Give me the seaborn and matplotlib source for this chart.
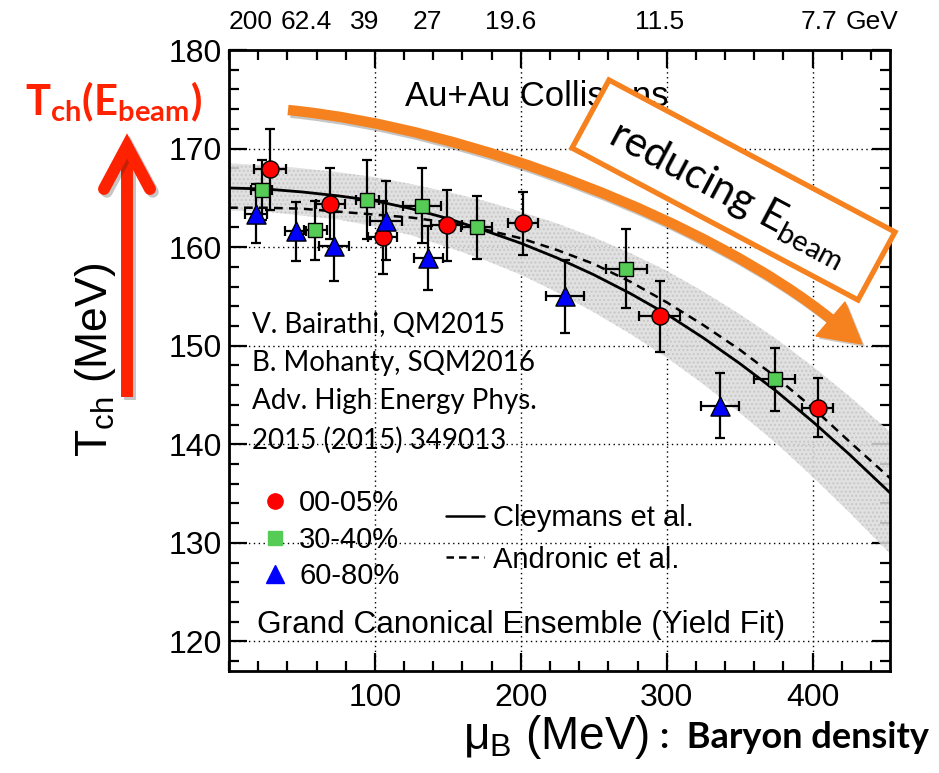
import numpy as np
import pandas as pd
import matplotlib
matplotlib.use("Agg")
import matplotlib.pyplot as plt
import seaborn as sns
from matplotlib.lines import Line2D
from matplotlib.patches import Polygon, PathPatch
from matplotlib.path import Path
from matplotlib.ticker import MultipleLocator
import matplotlib.patheffects as pe
import matplotlib.transforms as mtrans

# ---------------- data ----------------
mu_00_05 = [28.0, 69.4, 105.4, 149.2, 201.6, 295.2, 403.5]
T_00_05 = [167.9, 164.4, 161.0, 162.2, 162.4, 153.0, 143.7]
Terr_00_05 = [4.1, 3.6, 3.7, 3.6, 3.2, 3.6, 3.0]
muerr_00_05 = [11, 10, 10, 10.5, 10.5, 14, 10.5]

mu_30_40 = [22.3, 59.2, 94.7, 132.1, 169.7, 272.2, 374.1]
T_30_40 = [165.8, 161.7, 164.8, 164.2, 162.0, 157.8, 146.6]
Terr_30_40 = [3.0, 3.0, 4.0, 3.8, 3.2, 4.0, 3.2]
muerr_30_40 = [7, 8, 8, 13, 10.5, 14, 14]

mu_60_80 = [18.4, 45.7, 72.0, 107.3, 136.6, 230.1, 336.2]
T_60_80 = [163.4, 161.6, 160.1, 162.7, 158.9, 155.0, 143.9]
Terr_60_80 = [3.0, 3.0, 3.5, 4.0, 3.2, 3.7, 3.3]
muerr_60_80 = [7.5, 7.3, 10, 11, 10, 13, 13]

mu_curve = [0, 25, 50, 75, 100, 125, 150, 175, 200, 225, 250, 275, 300,
            325, 350, 375, 400, 425, 455]
T_cleymans = [166.0, 165.9, 165.6, 165.2, 164.7, 163.9, 162.9, 161.7, 160.4,
              158.9, 157.2, 155.3, 153.2, 150.8, 148.2, 145.4, 142.3, 139.0, 134.8]
T_andronic = [164.0, 164.0, 163.9, 163.6, 163.3, 163.0, 162.5, 161.8, 160.9,
              159.7, 158.3, 156.5, 154.4, 152.1, 149.6, 146.8, 143.7, 140.3, 136.3]
band_hi = [168.5, 168.3, 168.0, 167.6, 167.1, 166.4, 165.6, 164.7, 163.6,
           162.4, 161.0, 159.4, 157.6, 155.5, 153.2, 150.7, 147.9, 144.9, 141.0]
band_lo = [163.7, 163.6, 163.2, 162.8, 162.1, 161.2, 160.0, 158.7, 157.2,
           155.4, 153.4, 151.2, 148.8, 146.1, 143.2, 140.1, 136.7, 133.1, 128.6]

top_energy_labels = ["200", "62.4", "39", "27", "19.6", "11.5", "7.7", "GeV"]
top_energy_mu = [15, 53, 93, 136, 193, 295, 404, 441]

x_ticks = [100, 200, 300, 400]
y_ticks = [120, 130, 140, 150, 160, 170, 180]

groups = ["00-05%", "30-40%", "60-80%"]
colors = {"00-05%": "#ff0000", "30-40%": "#55cc55", "60-80%": "#0000ff"}
markers = {"00-05%": "o", "30-40%": "s", "60-80%": "^"}
msize = {"00-05%": 150, "30-40%": 110, "60-80%": 190}

df = pd.concat([
    pd.DataFrame({"mu": mu_00_05, "T": T_00_05, "dT": Terr_00_05, "dmu": muerr_00_05, "cent": "00-05%"}),
    pd.DataFrame({"mu": mu_30_40, "T": T_30_40, "dT": Terr_30_40, "dmu": muerr_30_40, "cent": "30-40%"}),
    pd.DataFrame({"mu": mu_60_80, "T": T_60_80, "dT": Terr_60_80, "dmu": muerr_60_80, "cent": "60-80%"}),
], ignore_index=True)

# ---------------- style ----------------
sns.set_theme(style="ticks")
plt.rcParams["font.family"] = ["Liberation Sans", "DejaVu Sans"]
plt.rcParams["text.color"] = "black"
plt.rcParams["axes.labelcolor"] = "black"
plt.rcParams["xtick.color"] = "black"
plt.rcParams["ytick.color"] = "black"
plt.rcParams["mathtext.fontset"] = "custom"
plt.rcParams["mathtext.rm"] = "Liberation Sans"
plt.rcParams["mathtext.it"] = "Liberation Sans:italic"
plt.rcParams["mathtext.bf"] = "Lato:bold"
plt.rcParams["mathtext.sf"] = "Lato"

W, H = 939, 773
def fx(x):
    return x / W
def fy(y):
    return 1 - y / H

fig = plt.figure(figsize=(W / 100, H / 100), dpi=100)
fig.patch.set_facecolor("white")
ax = fig.add_axes([fx(229), fy(671), (890 - 229) / W, (671 - 50) / H])
ax.set_facecolor("white")

# band + curves
ax.fill_between(mu_curve, band_lo, band_hi, facecolor="#dcdcdc", edgecolor="#c4c4c4",
                hatch="....", alpha=0.85, lw=0, zorder=1)
sns.lineplot(x=mu_curve, y=T_cleymans, ax=ax, color="black", lw=2.0, zorder=3)
sns.lineplot(x=mu_curve, y=T_andronic, ax=ax, color="black", lw=1.8, zorder=3,
             linestyle=(0, (3.5, 2.5)))

# points with error bars
for g in groups:
    sub = df[df["cent"] == g]
    ax.errorbar(sub["mu"], sub["T"], xerr=sub["dmu"], yerr=sub["dT"], fmt="none",
                ecolor="black", elinewidth=1.6, capsize=3.5, capthick=1.6, zorder=4)
    sns.scatterplot(data=sub, x="mu", y="T", ax=ax, color=colors[g], marker=markers[g],
                    s=msize[g], edgecolor="black", linewidth=1.0, zorder=5, legend=False)

# axes
ax.set_xlim(0, 453)
ax.set_ylim(117, 180)
ax.set_xticks(x_ticks)
ax.set_yticks(y_ticks)
ax.xaxis.set_minor_locator(MultipleLocator(20))
ax.yaxis.set_minor_locator(MultipleLocator(2))
ax.tick_params(which="both", direction="in", top=True, right=True, width=1.6, color="black")
ax.tick_params(which="major", length=13, labelsize=23, labelcolor="black")
ax.tick_params(which="minor", length=7)
ax.tick_params(axis="x", pad=9)
ax.tick_params(axis="y", pad=5)
for s in ax.spines.values():
    s.set_linewidth(2.0)
    s.set_color("black")
ax.grid(which="major", ls=(0, (1, 2.5)), color="black", lw=1.0)
ax.set_axisbelow(True)

ax.set_xlabel(r"$\mathrm{\mu_{B}}$ (MeV)", fontsize=33, color="black")
ax.xaxis.set_label_coords((556 - 229) / 661, (671 - 737) / 621)
ax.xaxis.label.set_va("center")
ax.set_ylabel(r"$\mathrm{T_{ch}}$ (MeV)", fontsize=32, color="black")
ax.yaxis.set_label_coords((95 - 229) / 661, (671 - 360) / 621)
ax.yaxis.label.set_va("center")

# top energy labels
tr = mtrans.blended_transform_factory(ax.transData, fig.transFigure)
for lab, m in zip(top_energy_labels, top_energy_mu):
    ax.text(m, fy(22), lab, transform=tr, ha="center", va="center", fontsize=19,
            color="black", clip_on=False)

# legends
h1 = [Line2D([], [], ls="none", marker=markers[g], color=colors[g], markersize=s, mec=colors[g])
      for g, s in zip(groups, [11, 10, 13])]
leg1 = ax.legend(h1, groups, loc="upper left", bbox_to_anchor=(fx(260), fy(489)),
                 bbox_transform=fig.transFigure, frameon=False, fontsize=21,
                 handlelength=1.0, handletextpad=0.35, labelspacing=0.3,
                 borderpad=0, borderaxespad=0, labelcolor="black")
ax.add_artist(leg1)
h2 = [Line2D([], [], color="black", lw=1.8), Line2D([], [], color="black", lw=1.8, ls=(0, (3, 2)))]
ax.legend(h2, ["Cleymans et al.", "Andronic et al."], loc="upper left",
          bbox_to_anchor=(fx(446), fy(504)), bbox_transform=fig.transFigure,
          frameon=False, fontsize=21, handlelength=1.3, handletextpad=0.3,
          labelspacing=0.47, borderpad=0, borderaxespad=0, labelcolor="black")

# annotation texts
fig.text(fx(537), fy(97), "Au+Au Collisions", fontsize=25, ha="center", va="center", zorder=2)
ref_lines = ["V. Bairathi, QM2015", "B. Mohanty, SQM2016", "Adv. High Energy Phys.",
             "2015 (2015) 349013"]
for yy, t in zip([325, 363, 401, 440], ref_lines):
    fig.text(fx(252), fy(yy), t, fontsize=20, family="Lato", ha="left", va="center")
fig.text(fx(257), fy(625), "Grand Canonical Ensemble (Yield Fit)", fontsize=22.7,
         ha="left", va="center")

# orange curved arrow
orange = "#f5821f"
P = [(288, 110), (470, 128), (712, 223), (832, 320)]
path = Path([(fx(x), fy(y)) for x, y in P], [Path.MOVETO, Path.CURVE4, Path.CURVE4, Path.CURVE4])
shaft = PathPatch(path, transform=fig.transFigure, fill=False, edgecolor=orange, lw=7.5,
                  capstyle="butt", zorder=2,
                  path_effects=[pe.SimpleLineShadow(offset=(2, -2), alpha=0.25), pe.Normal()])
fig.add_artist(shaft)
head = Polygon([(fx(862), fy(344)), (fx(816), fy(336)), (fx(845), fy(302))], closed=True,
               transform=fig.transFigure, facecolor=orange, edgecolor=orange, lw=1, zorder=2,
               path_effects=[pe.withSimplePatchShadow(offset=(2, -2), alpha=0.25)])
fig.add_artist(head)

# orange box with text
box = Polygon([(fx(609), fy(80)), (fx(895), fy(232)), (fx(858), fy(300)), (fx(572), fy(148))],
              closed=True, transform=fig.transFigure, facecolor="white", edgecolor=orange,
              lw=3.8, joinstyle="miter", zorder=3)
fig.add_artist(box)
fig.text(fx(728), fy(193), r"reducing $\mathsf{E_{beam}}$", family="Lato", fontsize=30,
         rotation=-28, rotation_mode="anchor", ha="center", va="center", zorder=4)

# red arrow on the left
red = "#ff2200"
shadow = [pe.SimpleLineShadow(offset=(2, -2), alpha=0.25), pe.Normal()]
fig.add_artist(Line2D([fx(127), fx(127)], [fy(397), fy(152)], transform=fig.transFigure,
                      color=red, lw=8.6, solid_capstyle="butt", path_effects=shadow))
fig.add_artist(Line2D([fx(104), fx(127), fx(150)], [fy(189), fy(146), fy(189)],
                      transform=fig.transFigure, color=red, lw=8.6,
                      solid_capstyle="round", solid_joinstyle="miter", path_effects=shadow))
fig.text(fx(113), fy(102), r"$\mathbf{T_{ch}(E_{beam})}$", color=red, fontsize=30,
         ha="center", va="center")

fig.text(fx(660), fy(738), ":  Baryon density", family="Lato", fontweight="bold",
         fontsize=26, ha="left", va="center")

fig.savefig("out.png", dpi=100, facecolor="white")
